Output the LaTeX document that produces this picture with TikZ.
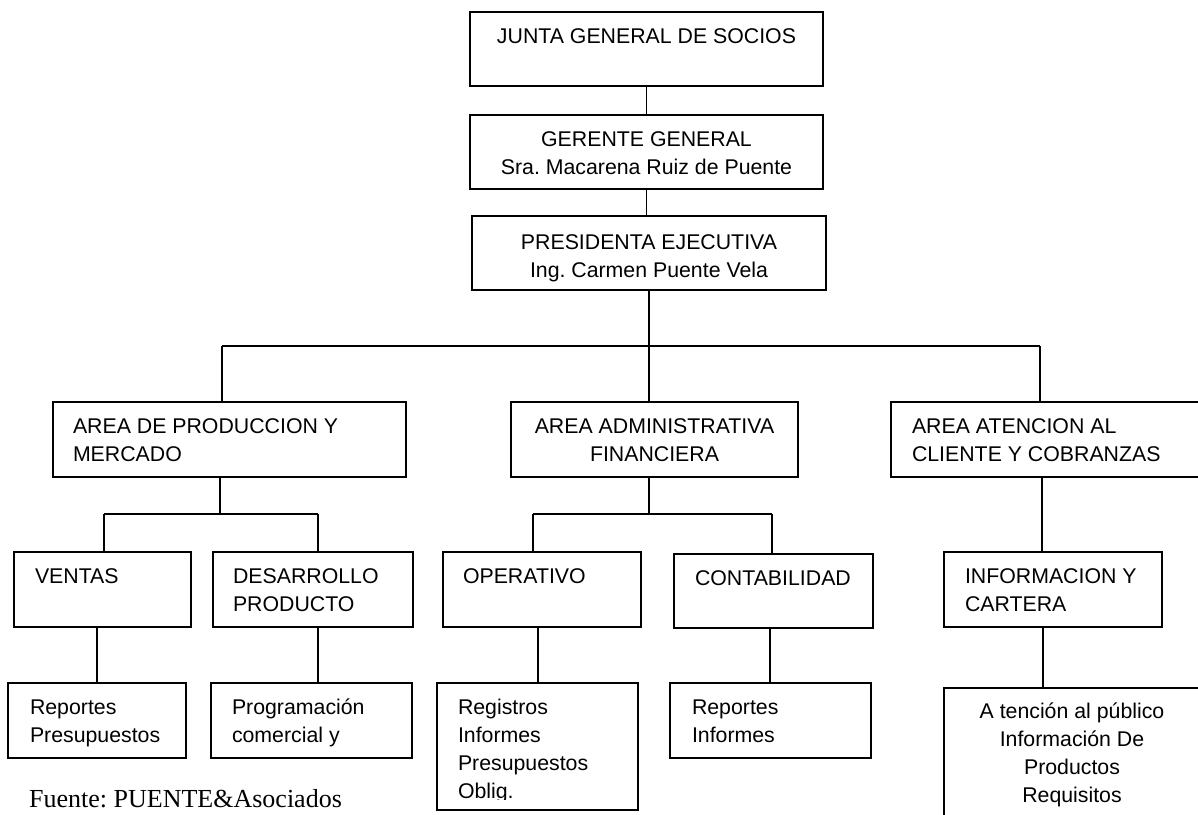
\documentclass[tikz,border=0pt]{standalone}
\usepackage{fontspec}
\setmainfont{Liberation Sans}
\newfontfamily\fuentefont{Liberation Serif}
\frenchspacing
\tikzset{
  box/.style={draw=black, line width=1.4pt, inner sep=0pt, outer sep=0pt, anchor=north west},
  txt/.style={inner sep=0pt, outer sep=0pt, font=\fontsize{21.3}{28}\selectfont},
  txtl/.style={txt, align=left, anchor=north west},
  txtc/.style={txt, align=center, anchor=north},
  conn/.style={draw=black, line width=1.5pt},
}
\begin{document}
\begin{tikzpicture}[x=1pt,y=-1pt]
\useasboundingbox (0,0) rectangle (1198,814);
\clip (0,0) rectangle (1198,814);
\fill[white] (0,0) rectangle (1198,814);

% boxes
\node[box, minimum width=353, minimum height=74] (junta) at (470,12) {};
\node[box, minimum width=353, minimum height=74] (gerente) at (470,115) {};
\node[box, minimum width=354, minimum height=74] (pres) at (472,216) {};
\node[box, minimum width=353, minimum height=75] (prod) at (53,402) {};
\node[box, minimum width=287, minimum height=75] (admin) at (511,402) {};
\node[box, minimum width=340, minimum height=75] (aten) at (891,402) {};
\node[box, minimum width=177, minimum height=75] (ventas) at (14,552) {};
\node[box, minimum width=200, minimum height=75] (desa) at (213,552) {};
\node[box, minimum width=198, minimum height=75] (oper) at (443,552) {};
\node[box, minimum width=199, minimum height=74] (conta) at (674,554) {};
\node[box, minimum width=218, minimum height=75] (info) at (944,552) {};
\node[box, minimum width=178, minimum height=75] (rep1) at (8,683) {};
\node[box, minimum width=201, minimum height=75] (prog) at (211,683) {};
\node[box, minimum width=201, minimum height=127] (regis) at (437,683) {};
\node[box, minimum width=201, minimum height=75] (rep2) at (670,683) {};
\node[box, minimum width=290, minimum height=150] (aten2) at (944,688) {};

% texts
\node[txtc] (juntat) at (646.5,23.4) {\strut JUNTA GENERAL DE SOCIOS};
\node[txtc] (gerentet) at (646.5,126.4) {\strut GERENTE GENERAL\\Sra. Macarena Ruiz de Puente};
\node[txtc] (prest) at (649,229.4) {\strut PRESIDENTA EJECUTIVA\\Ing. Carmen Puente Vela};
\node[txtl] (prodt) at (73,413.4) {\strut AREA DE PRODUCCION Y\\MERCADO};
\node[txtc] (admint) at (654.5,413.4) {\strut AREA ADMINISTRATIVA\\FINANCIERA};
\node[txtl] (atent) at (912,413.4) {\strut AREA ATENCION AL\\CLIENTE Y COBRANZAS};
\node[txtl] (ventast) at (35,563.4) {\strut VENTAS};
\node[txtl] (desat) at (233,563.4) {\strut DESARROLLO\\PRODUCTO};
\node[txtl] (opert) at (463,563.4) {\strut OPERATIVO};
\node[txtl] (contat) at (695,565.4) {\strut CONTABILIDAD};
\node[txtl] (infot) at (965,563.4) {\strut INFORMACION Y\\CARTERA};
\node[txtl] (rep1t) at (30,694.4) {\strut Reportes\\Presupuestos};
\node[txtl] (progt) at (232,694.4) {\strut Programación\\comercial y};
\begin{scope}
\clip (437,683) rectangle (638,799.5);
\node[txtl] (registext) at (458,694.4) {\strut Registros\\Informes\\Presupuestos\\Oblig.};
\end{scope}
\node[txtl] (rep2t) at (692,694.4) {\strut Reportes\\Informes};
\node[txtc] (aten2t) at (1072,698.4) {\strut A tención al público\\Información De\\Productos\\Requisitos};
\node[inner sep=0pt, anchor=base west, font=\fuentefont\fontsize{26}{30}\selectfont] (fuente) at (29,807) {Fuente: PUENTE\&Asociados};

% connector points
\coordinate (bus) at (649,346);
\coordinate (busL) at (222,346);
\coordinate (busR) at (1040,346);
\coordinate (pj) at (220,514);
\coordinate (pl) at (104,514);
\coordinate (pr) at (318,514);
\coordinate (aj) at (649,514);
\coordinate (al) at (533,514);
\coordinate (ar) at (772,514);

% connectors
\draw[conn] (junta.south) -- (gerente.north);
\draw[conn] (gerente.south) -- (gerente.south |- pres.north);
\draw[conn] (pres.south -| bus) -- (bus);
\draw[conn] (busL) -- (busR);
\draw[conn] (busL) -- (busL |- prod.north);
\draw[conn] (bus) -- (bus |- admin.north);
\draw[conn] (busR) -- (busR |- aten.north);

\draw[conn] (pj |- prod.south) -- (pj);
\draw[conn] (pl) -- (pr);
\draw[conn] (pl) -- (pl |- ventas.north);
\draw[conn] (pr) -- (pr |- desa.north);
\draw[conn] (97,627) coordinate (v1) -- (v1 |- rep1.north);
\draw[conn] (318,627) coordinate (d1) -- (d1 |- prog.north);

\draw[conn] (aj |- admin.south) -- (aj);
\draw[conn] (al) -- (ar);
\draw[conn] (al) -- (al |- oper.north);
\draw[conn] (ar) -- (ar |- conta.north);
\draw[conn] (538,627) coordinate (o1) -- (o1 |- regis.north);
\draw[conn] (770,628) coordinate (c1) -- (c1 |- rep2.north);

\draw[conn] (1042,477) coordinate (t1) -- (t1 |- info.north);
\draw[conn] (1043,627) coordinate (i1) -- (i1 |- aten2.north);
\end{tikzpicture}
\end{document}
